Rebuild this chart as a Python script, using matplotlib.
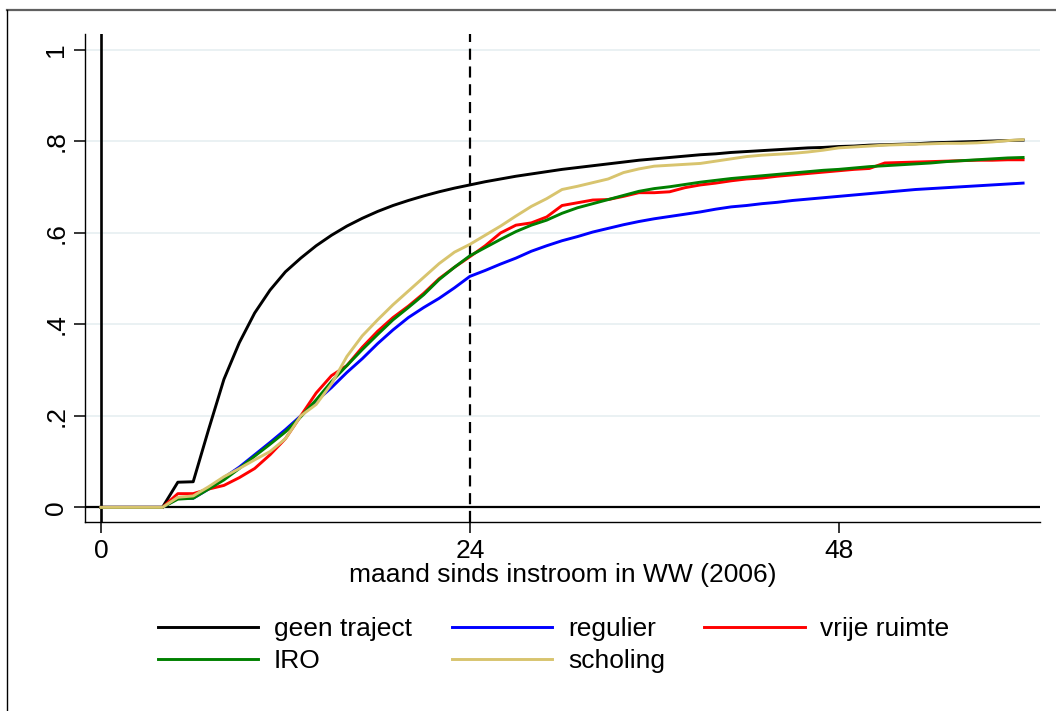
import numpy as np
import matplotlib.pyplot as plt
from matplotlib.lines import Line2D

plt.rcParams["font.family"] = ["Liberation Sans", "DejaVu Sans"]

months = np.arange(0, 61)

geen_traject = [
    0, 0, 0, 0, 0, 0.055, 0.056, 0.17, 0.28, 0.36,
    0.425, 0.475, 0.515, 0.545, 0.572, 0.595, 0.615, 0.632, 0.647, 0.66,
    0.671, 0.681, 0.69, 0.698, 0.705, 0.712, 0.718, 0.724, 0.729, 0.734,
    0.739, 0.743, 0.747, 0.751, 0.755, 0.759, 0.762, 0.765, 0.768, 0.771,
    0.773, 0.776, 0.778, 0.78, 0.782, 0.784, 0.786, 0.787, 0.789, 0.79,
    0.792, 0.793, 0.794, 0.795, 0.797, 0.798, 0.799, 0.8, 0.801, 0.802,
    0.803,
]

regulier = [
    0, 0, 0, 0, 0, 0.02, 0.02, 0.04, 0.065, 0.088,
    0.115, 0.142, 0.17, 0.2, 0.232, 0.262, 0.295, 0.325, 0.358, 0.388,
    0.415, 0.437, 0.457, 0.48, 0.505, 0.518, 0.532, 0.545, 0.56, 0.572,
    0.583, 0.592, 0.602, 0.61, 0.618, 0.625, 0.631, 0.636, 0.641, 0.646,
    0.652, 0.657, 0.66, 0.664, 0.667, 0.671, 0.674, 0.677, 0.68, 0.683,
    0.686, 0.689, 0.692, 0.695, 0.697, 0.699, 0.701, 0.703, 0.705, 0.707,
    0.709,
]

vrije_ruimte = [
    0, 0, 0, 0, 0, 0.03, 0.03, 0.04, 0.048, 0.065,
    0.085, 0.115, 0.15, 0.2, 0.25, 0.288, 0.31, 0.35, 0.385, 0.415,
    0.44, 0.468, 0.5, 0.525, 0.548, 0.572, 0.6, 0.617, 0.622, 0.635,
    0.66, 0.666, 0.672, 0.673, 0.68, 0.688, 0.688, 0.69, 0.699, 0.705,
    0.709, 0.714, 0.718, 0.72, 0.724, 0.727, 0.73, 0.733, 0.736, 0.739,
    0.741, 0.753, 0.754, 0.755, 0.756, 0.757, 0.758, 0.759, 0.759, 0.76,
    0.76,
]

iro = [
    0, 0, 0, 0, 0, 0.018, 0.02, 0.04, 0.06, 0.085,
    0.112, 0.138, 0.165, 0.198, 0.235, 0.275, 0.31, 0.345, 0.378, 0.41,
    0.437, 0.465, 0.498, 0.525, 0.55, 0.568, 0.586, 0.603, 0.617, 0.628,
    0.643, 0.655, 0.664, 0.673, 0.682, 0.691, 0.697, 0.701, 0.706, 0.711,
    0.715, 0.719, 0.722, 0.725, 0.728, 0.731, 0.734, 0.737, 0.739, 0.742,
    0.745, 0.747, 0.749, 0.751, 0.753, 0.756, 0.758, 0.76, 0.762, 0.764,
    0.765,
]

scholing = [
    0, 0, 0, 0, 0, 0.022, 0.025, 0.045, 0.067, 0.085,
    0.104, 0.122, 0.15, 0.2, 0.225, 0.27, 0.33, 0.375, 0.41, 0.443,
    0.473, 0.503, 0.533, 0.558, 0.575, 0.595, 0.615, 0.637, 0.658, 0.675,
    0.695, 0.702, 0.71, 0.718, 0.732, 0.74, 0.746, 0.748, 0.75, 0.752,
    0.757, 0.762, 0.767, 0.77, 0.772, 0.774, 0.777, 0.781, 0.786, 0.788,
    0.79, 0.792, 0.793, 0.794, 0.795, 0.796, 0.796, 0.797, 0.799, 0.802,
    0.804,
]

x_ticks = [0, 24, 48]
y_ticks = [0, 0.2, 0.4, 0.6, 0.8, 1.0]
y_ticklabels = ["0", ".2", ".4", ".6", ".8", "1"]

fs = 19

fig = plt.figure(figsize=(10.56, 7.11), dpi=100)
ax = fig.add_axes([85 / 1056, 1 - 522 / 711, (1040 - 85) / 1056, (522 - 34) / 711])

# grid + reference lines
for yv in y_ticks[1:]:
    ax.axhline(yv, color="#e8f0f2", lw=1.3, zorder=0)
ax.axhline(0, color="black", lw=1.6, zorder=1)
ax.axvline(0, color="black", lw=1.9, zorder=1)
ax.axvline(24, color="black", lw=1.6, dashes=(5, 3), zorder=1)

lw = 2.1
l1, = ax.plot(months, geen_traject, color="black", lw=lw, label="geen traject", zorder=3)
l2, = ax.plot(months, regulier, color="#0000ff", lw=lw, label="regulier", zorder=3)
l3, = ax.plot(months, vrije_ruimte, color="#ff0000", lw=lw, label="vrije ruimte", zorder=3)
l4, = ax.plot(months, iro, color="#008000", lw=lw, label="IRO", zorder=3)
l5, = ax.plot(months, scholing, color="#d8c46e", lw=lw, label="scholing", zorder=3)

ax.set_xlim(-1.04, 61.1)
ax.set_ylim(-0.032, 1.035)

ax.spines["top"].set_visible(False)
ax.spines["right"].set_visible(False)
ax.spines["left"].set_linewidth(1.0)
ax.spines["bottom"].set_linewidth(1.0)

ax.set_xticks(x_ticks)
ax.set_yticks(y_ticks)
ax.set_yticklabels(y_ticklabels, rotation=90, va="center")
ax.tick_params(axis="both", direction="out", length=8, width=1.1, labelsize=fs)
ax.tick_params(axis="y", pad=4)
ax.tick_params(axis="x", pad=4)
ax.set_xlabel("maand sinds instroom in WW (2006)", fontsize=fs, labelpad=0)

fig.legend(
    [l1, l4, l2, l5, l3],
    ["geen traject", "IRO", "regulier", "scholing", "vrije ruimte"],
    ncol=3,
    loc="upper left",
    bbox_to_anchor=(158 / 1056, 1 - 617 / 711),
    frameon=False,
    fontsize=fs,
    handlelength=3.8,
    handletextpad=0.6,
    columnspacing=1.5,
    labelspacing=0.3,
    borderpad=0,
    borderaxespad=0,
)

# outer graph border (top and left visible)
fig.add_artist(Line2D([7 / 1056, 1], [1 - 10 / 711] * 2, transform=fig.transFigure,
                      color="#606060", lw=1.6))
fig.add_artist(Line2D([7 / 1056] * 2, [0, 1 - 10 / 711], transform=fig.transFigure,
                      color="black", lw=1.0))

fig.savefig("out.png", dpi=100, facecolor="white")
